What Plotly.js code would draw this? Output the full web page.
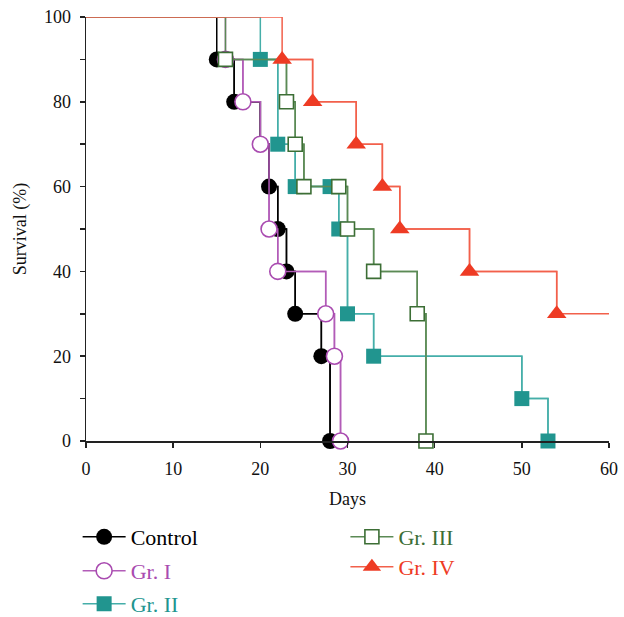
<!DOCTYPE html>
<html>
<head>
<meta charset="utf-8">
<script src="https://cdn.plot.ly/plotly-3.0.1.min.js"></script>
<style>html,body{margin:0;padding:0;background:#fff}#chart{width:624px;height:617px}</style>
</head>
<body>
<div id="chart"></div>
<script>
// ---- data (days of event, survival % after event) ----
const controlDays = [15, 17, 20, 21, 22, 23, 24, 27, 28];
const controlSurv = [90, 80, 70, 60, 50, 40, 30, 20, 0];

const gr1Days = [16, 18, 20, 21, 22, 27.5, 28.5, 29.2];
const gr1Surv = [90, 80, 70, 50, 40, 30, 20, 0];

const gr2Days = [20, 22, 24, 28, 29, 30, 33, 50, 53];
const gr2Surv = [90, 70, 60, 60, 50, 30, 20, 10, 0];

const gr3Days = [16, 23, 24, 25, 29, 30, 33, 38, 39];
const gr3Surv = [90, 80, 70, 60, 60, 50, 40, 30, 0];

const gr4Days = [22.5, 26, 31, 34, 36, 44, 54];
const gr4Surv = [90, 80, 70, 60, 50, 40, 30];
const gr4End = 60; // follow-up end for Gr. IV

const seriesNames = ["Control", "Gr. I", "Gr. II", "Gr. III", "Gr. IV"];
const startDay = 0, startSurv = 100;

// ---- styles ----
const styles = [
  {color: "#000000", line: "#000000", symbol: "circle", size: 16, fill: "#000000"},
  {color: "#a94bb0", line: "#b25cb8", symbol: "circle", size: 16, fill: "#ffffff"},
  {color: "#21958f", line: "#45aea9", symbol: "square", size: 15, fill: "#21958f"},
  {color: "#3c6e35", line: "#5b8a55", symbol: "square", size: 14, fill: "#ffffff"},
  {color: "#ee3b24", line: "#f2604b", symbol: "triangle-up", size: 17, fill: "#ee3b24"}
];
// legend placement in paper fractions
const legendPos = [
  {x: -0.016, y: -0.2264},
  {x: -0.016, y: -0.3066},
  {x: -0.016, y: -0.3844},
  {x: 0.496, y: -0.2264},
  {x: 0.496, y: -0.2972}
];

const groups = [
  [controlDays, controlSurv, null],
  [gr1Days, gr1Surv, null],
  [gr2Days, gr2Surv, null],
  [gr3Days, gr3Surv, null],
  [gr4Days, gr4Surv, gr4End]
];

const lineTraces = [], markerTraces = [];
groups.forEach((g, i) => {
  const [days, surv, end] = g;
  const st = styles[i];
  const xs = [startDay].concat(days);
  const ys = [startSurv].concat(surv);
  if (end !== null) { xs.push(end); ys.push(surv[surv.length - 1]); }
  lineTraces.push({
    x: xs, y: ys, type: "scatter", mode: "lines",
    line: {shape: "hv", color: st.line, width: 1.5},
    showlegend: false, hoverinfo: "skip", cliponaxis: false
  });
  markerTraces.push({
    x: days, y: surv, type: "scatter", mode: "lines+markers",
    name: '<span style="color:' + st.color + '">' + seriesNames[i] + '</span>',
    line: {shape: "hv", color: st.line, width: 1.5},
    marker: {symbol: st.symbol, size: st.size, color: st.fill,
             line: {color: st.color, width: st.fill === "#ffffff" ? 1.6 : 0}},
    cliponaxis: false,
    legend: i === 0 ? "legend" : "legend" + (i + 1)
  });
});

const font = {family: "Liberation Serif, Times New Roman, serif", color: "#111"};
const layout = {
  width: 624, height: 617,
  margin: {l: 86, r: 15, t: 17, b: 176, autoexpand: false},
  paper_bgcolor: "#fff", plot_bgcolor: "#fff",
  font: Object.assign({size: 18}, font),
  xaxis: {
    range: [0, 60], dtick: 10, tick0: 0, showgrid: false, zeroline: false,
    showline: true, linecolor: "#222", linewidth: 1.5,
    ticks: "outside", ticklen: 5, tickwidth: 1.5, tickcolor: "#222",
    ticklabelstandoff: 6,
    tickfont: Object.assign({size: 18}, font),
    title: {text: "Days", font: Object.assign({size: 18}, font), standoff: 14}
  },
  yaxis: {
    range: [0, 100], dtick: 20, tick0: 0, showgrid: false, zeroline: false,
    showline: true, linecolor: "#222", linewidth: 1.5,
    ticks: "outside", ticklen: 5, tickwidth: 1.5, tickcolor: "#222",
    ticklabelstandoff: 5,
    minor: {dtick: 10, ticks: "outside", ticklen: 5, tickwidth: 1.5, tickcolor: "#222", showgrid: false},
    tickfont: Object.assign({size: 18}, font),
    title: {text: "Survival (%)", font: Object.assign({size: 18}, font), standoff: 12}
  }
};
legendPos.forEach((p, i) => {
  const key = i === 0 ? "legend" : "legend" + (i + 1);
  layout[key] = {
    x: p.x, y: p.y,
    xanchor: "left", yanchor: "middle",
    bgcolor: "rgba(0,0,0,0)", borderwidth: 0,
    font: Object.assign({size: 22}, font),
    itemwidth: 43, itemsizing: "trace"
  };
});

Plotly.newPlot("chart", lineTraces.concat(markerTraces), layout, {displayModeBar: false, staticPlot: true});
</script>
</body>
</html>
